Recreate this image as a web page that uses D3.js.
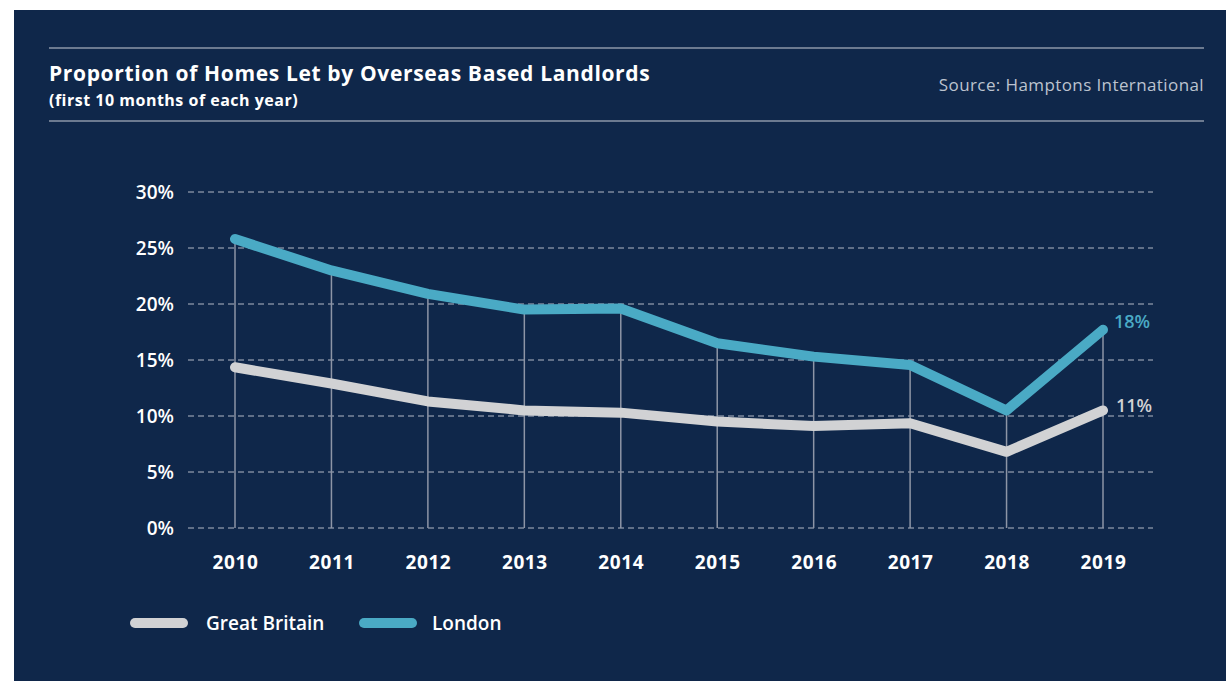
<!DOCTYPE html>
<html lang="en">
<head>
    <meta charset="UTF-8">
    <title>Overseas Based Landlords</title>
    <style>
        body {
            margin: 0;
            background: #fff;
        }
        text {
            font-family: "Open Sans", sans-serif;
        }
    </style>
</head>
<body>
    <svg id="chart" width="1226" height="681"></svg>

<script src="https://cdn.jsdelivr.net/npm/d3@7"></script>
<script>
    // data
    let years = [2010, 2011, 2012, 2013, 2014, 2015, 2016, 2017, 2018, 2019]
    let greatBritain = [14.35, 12.9, 11.3, 10.5, 10.3, 9.5, 9.1, 9.35, 6.8, 10.5]
    let london = [25.8, 23.0, 20.9, 19.5, 19.6, 16.5, 15.3, 14.55, 10.5, 17.7]
    let yTicks = [0, 5, 10, 15, 20, 25, 30]

    let navy = "#0f274a"
    let grey = "#d1d2d4"
    let teal = "#4aaac5"

    let svg = d3.select("#chart")

    svg.append("rect")
        .attr("x", 14).attr("y", 10)
        .attr("width", 1212).attr("height", 671)
        .attr("fill", navy)

    // header
    svg.append("line")
        .attr("x1", 49).attr("x2", 1204).attr("y1", 48).attr("y2", 48)
        .attr("stroke", "#8d97a9").attr("stroke-width", 1.5)
    svg.append("line")
        .attr("x1", 49).attr("x2", 1204).attr("y1", 121).attr("y2", 121)
        .attr("stroke", "#8d97a9").attr("stroke-width", 1.5)

    svg.append("text")
        .attr("x", 49).attr("y", 81)
        .attr("fill", "#fff")
        .style("font-size", "21px").style("font-weight", 700)
        .style("letter-spacing", "0.65px")
        .text("Proportion of Homes Let by Overseas Based Landlords")
    svg.append("text")
        .attr("x", 49).attr("y", 106)
        .attr("fill", "#fff")
        .style("font-size", "16px").style("font-weight", 700)
        .style("letter-spacing", "0.5px")
        .text("(first 10 months of each year)")
    svg.append("text")
        .attr("x", 1204).attr("y", 91)
        .attr("text-anchor", "end")
        .attr("fill", "#bcc3cf")
        .style("font-size", "17px")
        .style("letter-spacing", "0.4px")
        .text("Source: Hamptons International")

    // scales
    let x = d3.scalePoint().domain(years).range([235, 1103])
    let y = d3.scaleLinear().domain([0, 30]).range([528, 192])

    // gridlines + y labels
    let grid = svg.append("g")
    grid.selectAll("line")
        .data(yTicks)
        .join("line")
        .attr("x1", 188).attr("x2", 1153)
        .attr("y1", d => y(d)).attr("y2", d => y(d))
        .attr("stroke", "#b3b9c5")
        .attr("stroke-width", 1)
        .attr("stroke-dasharray", "6,4")

    let yAxis = d3.axisLeft(y).tickValues(yTicks).tickFormat(d => d + "%").tickSize(0).tickPadding(0)
    svg.append("g")
        .attr("transform", "translate(174,0)")
        .call(yAxis)
        .call(g => g.select(".domain").remove())
        .selectAll("text")
        .attr("fill", "#fff")
        .attr("dy", "0.35em")
        .style("font-size", "19px").style("font-weight", 600)
        .style("font-family", "'Open Sans', sans-serif")

    // vertical drop lines from highest point
    svg.append("g").selectAll("line")
        .data(years)
        .join("line")
        .attr("x1", d => x(d)).attr("x2", d => x(d))
        .attr("y1", (d, i) => y(Math.max(london[i], greatBritain[i])))
        .attr("y2", y(0))
        .attr("stroke", "#8d95a6")
        .attr("stroke-width", 1.5)

    // x labels
    let xAxis = d3.axisBottom(x).tickSize(0).tickPadding(0)
    svg.append("g")
        .attr("transform", "translate(0,569)")
        .call(xAxis)
        .call(g => g.select(".domain").remove())
        .selectAll("text")
        .attr("fill", "#fff")
        .attr("dy", 0)
        .style("font-size", "19px").style("font-weight", 700)
        .style("letter-spacing", "0.6px")
        .style("font-family", "'Open Sans', sans-serif")

    // lines
    let line = d3.line()
        .x((d, i) => x(years[i]))
        .y(d => y(d))

    let series = [
        { name: "Great Britain", values: greatBritain, color: grey },
        { name: "London", values: london, color: teal }
    ]

    svg.append("g").selectAll("path")
        .data(series)
        .join("path")
        .attr("d", d => line(d.values))
        .attr("fill", "none")
        .attr("stroke", d => d.color)
        .attr("stroke-width", 10)
        .attr("stroke-linecap", "round")
        .attr("stroke-linejoin", "round")

    // end labels
    svg.append("text")
        .attr("x", 1114).attr("y", y(london[9]) - 2)
        .attr("fill", teal)
        .style("font-size", "18px").style("font-weight", 600)
        .text(Math.round(london[9]) + "%")
    svg.append("text")
        .attr("x", 1116).attr("y", y(greatBritain[9]) + 2)
        .attr("fill", grey)
        .style("font-size", "18px").style("font-weight", 600)
        .text(Math.round(greatBritain[9]) + "%")

    // legend
    let legend = svg.append("g").selectAll("g")
        .data(series)
        .join("g")
        .attr("transform", (d, i) => `translate(${[130, 359][i]},623)`)
    legend.append("line")
        .attr("x1", 5).attr("x2", 53)
        .attr("stroke", d => d.color)
        .attr("stroke-width", 10)
        .attr("stroke-linecap", "round")
    legend.append("text")
        .attr("x", d => d.name == "London" ? 73 : 76)
        .attr("y", 7)
        .attr("fill", "#fff")
        .style("font-size", "19px").style("font-weight", 600)
        .text(d => d.name)
</script>
</body>
</html>
